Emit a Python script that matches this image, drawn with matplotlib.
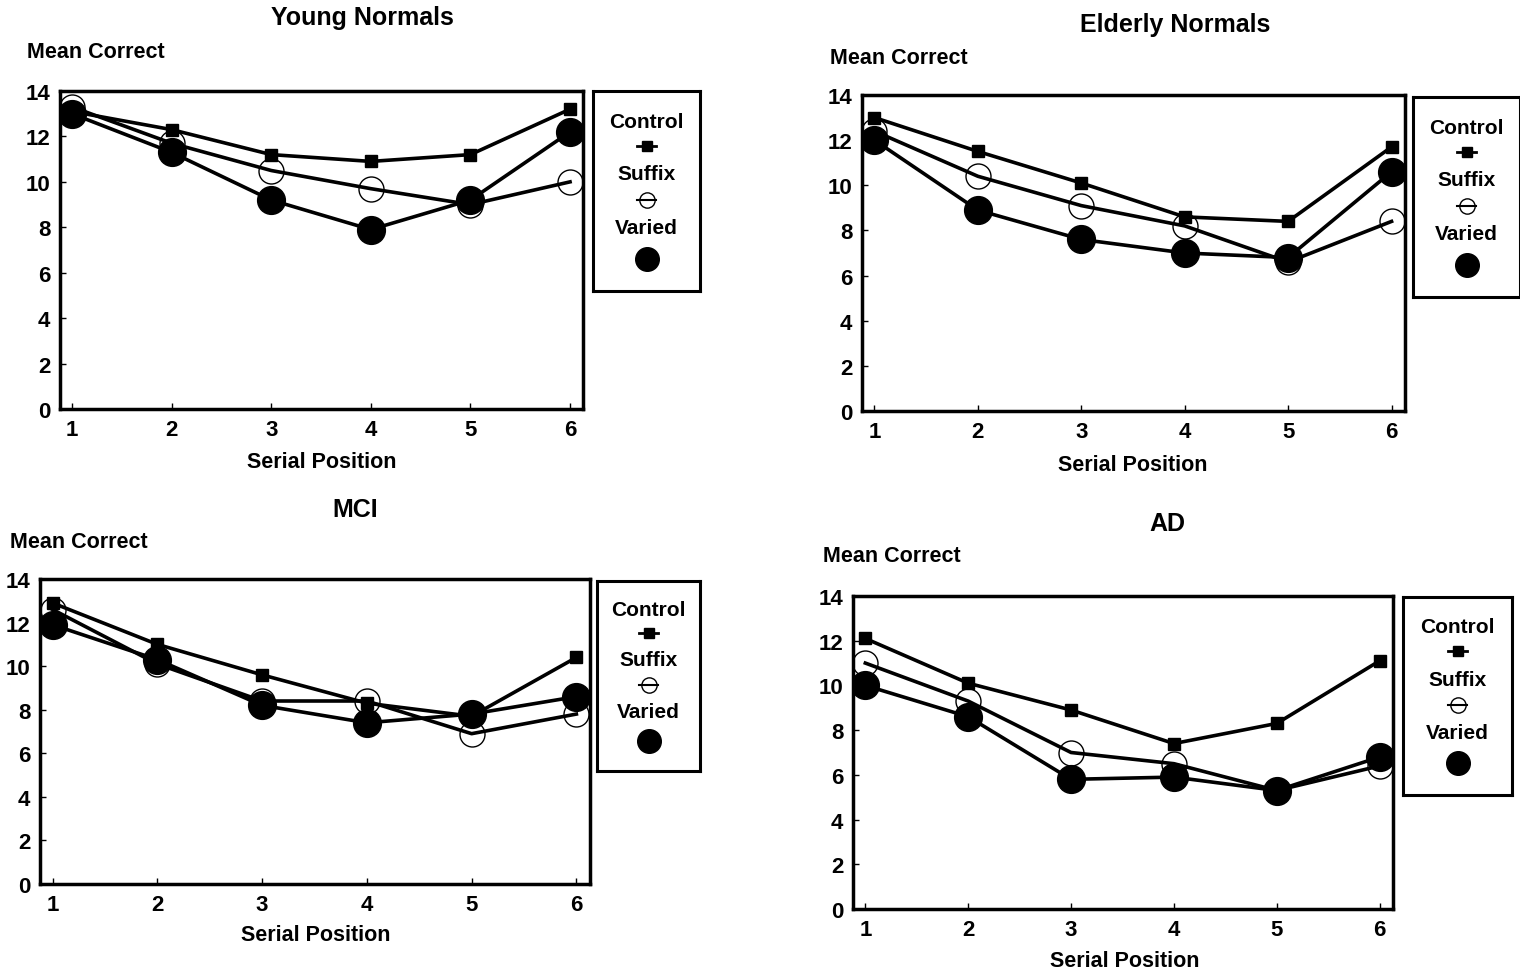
import numpy as np
import matplotlib.pyplot as plt

plt.rcParams['font.family'] = ['Liberation Sans', 'DejaVu Sans']
plt.rcParams['font.weight'] = 'bold'

pos = [1, 2, 3, 4, 5, 6]

# mean correct per serial position, one trio per group
young_control = [13.1, 12.3, 11.2, 10.9, 11.2, 13.2]
young_suffix = [13.3, 11.7, 10.5, 9.7, 9.0, 10.0]
young_varied = [13.0, 11.3, 9.2, 7.9, 9.2, 12.2]

elderly_control = [13.0, 11.5, 10.1, 8.6, 8.4, 11.7]
elderly_suffix = [12.4, 10.4, 9.1, 8.2, 6.6, 8.4]
elderly_varied = [12.0, 8.9, 7.6, 7.0, 6.8, 10.6]

mci_control = [12.9, 11.0, 9.6, 8.3, 7.7, 10.4]
mci_suffix = [12.6, 10.1, 8.4, 8.4, 6.9, 7.8]
mci_varied = [11.9, 10.3, 8.2, 7.4, 7.8, 8.6]

ad_control = [12.1, 10.1, 8.9, 7.4, 8.3, 11.1]
ad_suffix = [11.0, 9.3, 7.0, 6.5, 5.3, 6.4]
ad_varied = [10.0, 8.6, 5.8, 5.9, 5.3, 6.8]

W, H = 1520, 979
fig = plt.figure(figsize=(W / 100, H / 100), dpi=100)


def box(l, t, r, b):
    return [l / W, 1 - b / H, (r - l) / W, (b - t) / H]


def panel(frame, leg, title, title_xy, ylab_xy, xlab_xy, ctrl, suf, var):
    ax = fig.add_axes(box(*frame))
    ax.plot(pos, ctrl, color='black', lw=2.6, marker='s', ms=9, mfc='black', mec='black', zorder=3)
    ax.plot(pos, suf, color='black', lw=2.6, marker='o', ms=18, mfc='none', mec='black', mew=1.0, zorder=2)
    ax.plot(pos, var, color='black', lw=2.6, marker='o', ms=20, mfc='black', mec='black', zorder=4)
    ax.set_xlim(0.88, 6.13)
    ax.set_ylim(0, 14)
    ax.set_xticks(pos)
    ax.set_yticks(range(0, 15, 2))
    ax.tick_params(direction='in', length=4, width=1, labelsize=16)
    ax.tick_params(axis='x', pad=7)
    ax.tick_params(axis='y', pad=7)
    for s in ax.spines.values():
        s.set_linewidth(2.5)
    for lab in ax.get_xticklabels() + ax.get_yticklabels():
        lab.set_fontweight('bold')

    fig.text(title_xy[0] / W, 1 - title_xy[1] / H, title, ha='center', va='center', fontsize=18)
    fig.text(ylab_xy[0] / W, 1 - ylab_xy[1] / H, 'Mean Correct', ha='left', va='center', fontsize=15.5)
    fig.text(xlab_xy[0] / W, 1 - xlab_xy[1] / H, 'Serial Position', ha='center', va='center', fontsize=15.5)

    # legend box: label above each marker
    lg = fig.add_axes(box(*leg))
    lg.set_xlim(0, 1)
    lg.set_ylim(0, 1)
    lg.set_xticks([])
    lg.set_yticks([])
    for s in lg.spines.values():
        s.set_linewidth(2.2)
    lg.text(0.5, 0.85, 'Control', ha='center', va='center', fontsize=15)
    lg.plot([0.41, 0.59], [0.725, 0.725], color='black', lw=2)
    lg.plot([0.5], [0.725], marker='s', ms=7, color='black')
    lg.text(0.5, 0.585, 'Suffix', ha='center', va='center', fontsize=15)
    lg.plot([0.41, 0.59], [0.455, 0.455], color='black', lw=1.5)
    lg.plot([0.5], [0.455], marker='o', ms=11, mfc='none', mec='black', mew=1)
    lg.text(0.5, 0.315, 'Varied', ha='center', va='center', fontsize=15)
    lg.plot([0.5], [0.16], marker='o', ms=17, color='black')
    return ax


panel((60, 92, 583, 410), (593, 92, 700, 292), 'Young Normals', (362, 18), (27, 53), (322, 463),
      young_control, young_suffix, young_varied)
panel((862, 96, 1405, 412), (1413, 98, 1520, 298), 'Elderly Normals', (1175, 25), (830, 58), (1133, 466),
      elderly_control, elderly_suffix, elderly_varied)
panel((40, 580, 590, 885), (597, 582, 700, 772), 'MCI', (355, 510), (10, 542), (316, 936),
      mci_control, mci_suffix, mci_varied)
panel((853, 597, 1393, 910), (1403, 598, 1512, 796), 'AD', (1167, 524), (823, 556), (1125, 962),
      ad_control, ad_suffix, ad_varied)

fig.savefig('out.png', dpi=100)
